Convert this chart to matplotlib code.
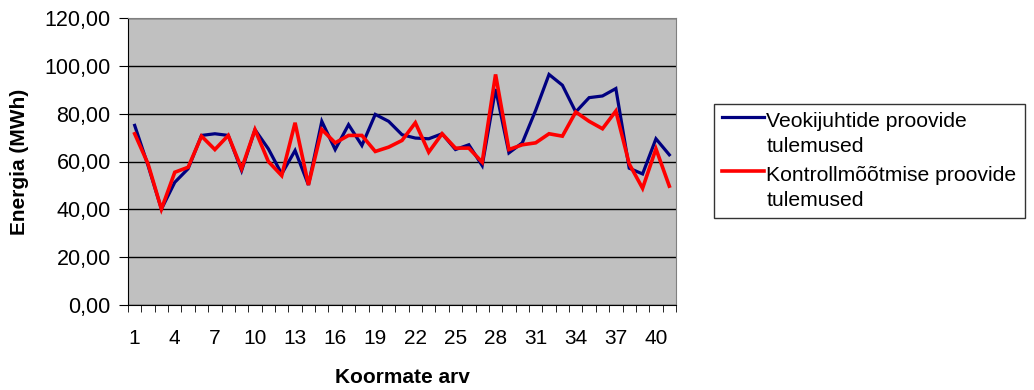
import numpy as np
import matplotlib
matplotlib.use("Agg")
import matplotlib.pyplot as plt
from matplotlib.ticker import FuncFormatter
from matplotlib.legend_handler import HandlerLine2D

plt.rcParams["font.family"] = ["Liberation Sans", "DejaVu Sans"]

loads = list(range(1, 42))
drivers = [75.1, 58.3, 40.1, 51.3, 57.0, 70.9, 71.6, 70.9, 56.2, 73.3,
           65.3, 54.8, 64.6, 50.2, 76.8, 65.0, 75.4, 66.7, 79.7, 76.8,
           71.2, 69.8, 69.5, 71.6, 65.0, 67.0, 58.3, 90.3, 63.6, 67.8,
           81.4, 96.4, 91.9, 80.7, 86.7, 87.4, 90.5, 57.2, 54.8, 69.5,
           62.8]
control = [71.6, 59.0, 40.1, 55.5, 57.6, 70.6, 65.0, 70.9, 57.0, 73.3,
           60.0, 54.1, 76.2, 50.2, 73.4, 67.8, 70.9, 70.9, 64.2, 66.0,
           68.8, 76.2, 63.9, 71.6, 65.6, 65.6, 59.7, 96.4, 65.0, 67.0,
           67.8, 71.6, 70.6, 80.7, 76.8, 73.7, 81.1, 59.0, 48.8, 65.3,
           49.7]
labels = ["Veokijuhtide proovide\ntulemused", "Kontrollmõõtmise proovide\ntulemused"]
yticks = [0, 20, 40, 60, 80, 100, 120]
xtick_labels = loads[::3]


class FirstLineHandler(HandlerLine2D):
    # put the legend line next to the first text line, like Excel does
    def create_artists(self, legend, orig_handle, xdescent, ydescent,
                       width, height, fontsize, trans):
        arts = super().create_artists(legend, orig_handle, xdescent, ydescent,
                                      width, height, fontsize, trans)
        for a in arts:
            y = np.asarray(a.get_ydata(), dtype=float)
            a.set_ydata(y + 0.8 * fontsize)
        return arts


fig = plt.figure(figsize=(10.34, 3.90), dpi=100)
ax = fig.add_axes([128 / 1034, 1 - 305 / 390, 548 / 1034, 287 / 390])
ax.set_facecolor("#c0c0c0")

ax.plot(loads, drivers, color="#000080", lw=2.3, label=labels[0], solid_joinstyle="miter")
ax.plot(loads, control, color="#ff0000", lw=2.6, label=labels[1], solid_joinstyle="miter")

ax.set_xlim(0.5, 41.5)
ax.set_ylim(0, 120)
ax.set_yticks(yticks)
ax.yaxis.set_major_formatter(FuncFormatter(lambda v, p: f"{v:.2f}".replace(".", ",")))
ax.grid(axis="y", color="black", lw=1)
ax.set_axisbelow(True)

ax.set_xticks(xtick_labels)
ax.set_xticklabels([str(v) for v in xtick_labels])
ax.set_xticks(np.arange(0.5, 42, 1), minor=True)
ax.tick_params(axis="x", which="major", length=0, pad=17, labelsize=15)
ax.tick_params(axis="x", which="minor", length=5, direction="out", color="black")
ax.tick_params(axis="y", length=6.5, direction="out", labelsize=15.5, pad=6)

for s in ["top", "right"]:
    ax.spines[s].set_color("#808080")
for s in ["left", "bottom"]:
    ax.spines[s].set_color("black")

ax.set_ylabel("Energia (MWh)", fontsize=15, fontweight="bold", labelpad=11)
ax.set_xlabel("Koormate arv", fontsize=15, fontweight="bold", labelpad=15)

leg = fig.legend(loc="center left", bbox_to_anchor=(703 / 1034, 1 - 161 / 390),
                 fontsize=15.2, frameon=True, fancybox=False, edgecolor="black",
                 handlelength=2.0, handletextpad=0.1, borderpad=0.4, labelspacing=0.5,
                 handler_map={plt.Line2D: FirstLineHandler()})
leg.get_frame().set_linewidth(1)
for t in leg.get_texts():
    t.set_linespacing(1.35)

fig.savefig("out.png", dpi=100)
